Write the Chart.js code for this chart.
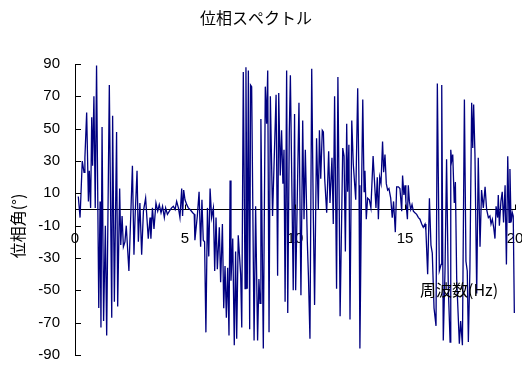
<!DOCTYPE html>
<html lang="ja">
<head>
<meta charset="UTF-8">
<title>位相スペクトル</title>
<script src="https://cdn.jsdelivr.net/npm/chart.js"></script>
<style>
  html, body { margin: 0; padding: 0; background: #fff; }
  #wrap { width: 522px; height: 365px; }
</style>
</head>
<body>
<div id="wrap"><canvas id="phaseChart" width="522" height="365"></canvas></div>
<script>
// 周波数 (Hz) と位相角 (°)
var freq = [
  0.15, 0.23, 0.33, 0.41, 0.45, 0.53, 0.61, 0.65, 0.71, 0.76, 0.80, 0.86, 0.92, 0.98,
  1.08, 1.14, 1.18, 1.23, 1.30, 1.38, 1.44, 1.56, 1.67, 1.71, 1.79, 1.89, 1.94,
  2.03, 2.08, 2.14, 2.20, 2.27, 2.33, 2.45, 2.61, 2.68, 2.73, 2.82, 2.88, 2.95,
  3.03, 3.11, 3.21, 3.33, 3.41, 3.45, 3.52, 3.59, 3.68, 3.76, 3.83, 3.91, 3.98,
  4.06, 4.12, 4.20, 4.29, 4.39, 4.47, 4.55, 4.62, 4.70, 4.77, 4.85, 4.89, 4.94,
  5.00, 5.08, 5.15, 5.23, 5.35, 5.42, 5.45, 5.56, 5.64, 5.71, 5.77, 5.83, 5.89, 5.95,
  6.02, 6.08, 6.14, 6.21, 6.29, 6.35, 6.41, 6.47, 6.56, 6.62, 6.70, 6.76, 6.82, 6.88, 6.94,
  7.00, 7.05, 7.09, 7.17, 7.24, 7.30, 7.35, 7.42, 7.53, 7.58, 7.65, 7.73, 7.77, 7.83, 7.88, 7.94, 7.98,
  8.03, 8.14, 8.21, 8.30, 8.36, 8.41, 8.45, 8.56, 8.65, 8.71, 8.76, 8.82, 8.88, 8.98,
  9.14, 9.21, 9.26, 9.33, 9.39, 9.45, 9.50, 9.55, 9.62, 9.67, 9.74, 9.79, 9.92, 9.98,
  10.03, 10.18, 10.27, 10.35, 10.41, 10.47, 10.56, 10.61, 10.68, 10.76, 10.83, 10.89, 10.98,
  11.06, 11.11, 11.17, 11.24, 11.29, 11.35, 11.44, 11.53, 11.59, 11.68, 11.74, 11.80, 11.89, 11.95,
  12.01, 12.05, 12.17, 12.23, 12.29, 12.35, 12.39, 12.45, 12.50, 12.58, 12.65, 12.76, 12.85, 12.91, 12.95,
  13.03, 13.08, 13.14, 13.18, 13.24, 13.30, 13.38, 13.45, 13.55, 13.61, 13.68, 13.74, 13.79, 13.85, 13.91, 13.98,
  14.03, 14.09, 14.15, 14.21, 14.27, 14.35, 14.42, 14.48, 14.56, 14.62, 14.70, 14.77, 14.85, 14.89, 14.95,
  15.00, 15.04, 15.11, 15.15, 15.20, 15.26, 15.32, 15.38, 15.45, 15.53, 15.61, 15.68, 15.76, 15.83, 15.91, 15.95,
  16.03, 16.11, 16.18, 16.24, 16.32, 16.41, 16.47, 16.56, 16.64, 16.67, 16.74, 16.82, 16.89, 16.97,
  17.05, 17.08, 17.12, 17.17, 17.24, 17.29, 17.35, 17.47, 17.53, 17.61, 17.70, 17.77, 17.83, 17.88, 17.95,
  18.03, 18.08, 18.12, 18.18, 18.26, 18.33, 18.41, 18.48, 18.56, 18.64, 18.71, 18.79, 18.86, 18.91, 18.97,
  19.03, 19.09, 19.14, 19.21, 19.24, 19.29, 19.36, 19.42, 19.48, 19.55, 19.61, 19.67, 19.73, 19.77, 19.82, 19.88, 19.92, 19.97
];
var phase = [
  8, -5, 30, 23, 32, 60, 5, 24, 1, 57, 27, 70, 1, 89,
  -61, 5, -73, 51, -69, -10, -78, 77, -67, 58, -57, 48, -60,
  13, -22, -4, -23, -20, -10, -38, 27, -28, -5, 24, -20, 4,
  -28, -1, 7, -18, -5, -18, 1, -12, 4, -1, 3, -2, 2,
  -5, 1, -3, -1, 1, 2, 0, 5, 1, -5, 13, -4, 12,
  6, 3, 1, 0, -2, -3, -19, -4, 11, -23, 6, -19, -20, -76,
  1, -29, 13, -5, 1, -38, -5, -37, -11, -45, -9, -61, -35, -67, -36,
  -78, 18, -44, -18, -84, -26, -80, -16, -40, -73, 85, -49, 88, -49, 86, -74, 77,
  76, -81, 2, -81, -43, -58, 56, -86, 76, 53, 86, -76, 70, -4,
  71, -41, 72, 21, 49, 16, 37, -57, 86, -64, 47, 83, -50, 59,
  -50, 66, -53, 55, -6, 37, -20, -41, -80, 87, -1, -59, 44,
  0, 49, 19, 49, 48, 19, -2, 36, 4, 32, -9, 70, -49, 82,
  3, -66, 38, 33, -26, 53, 11, 40, -68, 55, 28, 6, 75, 15, -86,
  17, 68, 11, 24, -6, 7, 6, 1, 33, 18, 1, 20, -6, 20, 16, 42,
  23, 34, 16, 12, 13, 7, -5, 5, -14, 14, 14, 13, -1, 21, 9,
  15, 5, -6, 15, 5, 0, 3, -1, -2, -3, -5, -6, -9, -11, -9, -13,
  -40, 7, -22, -27, -61, -72, 78, -38, -34, 77, -81, -37, 31, -49,
  -82, 37, 30, 34, 4, 17, -43, -83, -69, -84, 68, -32, -38, -82, -37,
  66, 38, 65, 34, -52, 32, -23, 12, 1, 14, 0, -5, -4, -9, -6,
  -11, -18, 2, -5, 9, -10, 5, 11, -8, 15, -34, 33, -8, 25, -8, -2, -4, -64
];
var xTicks = [0, 5, 10, 15, 20];
var yTicks = [-90, -70, -50, -30, -10, 10, 30, 50, 70, 90];

var jpFont = '"Noto Sans CJK JP", "Noto Sans", sans-serif';
var numFont = '"Liberation Sans", Arial, sans-serif';

// タイトル・軸ラベル・目盛り線(内向き)を描く
var decorations = {
  id: 'decorations',
  afterDraw: function (chart) {
    var c = chart.ctx;
    var xs = chart.scales.x, ys = chart.scales.y;
    var y0 = ys.getPixelForValue(0);
    c.save();
    c.strokeStyle = '#000';
    c.lineWidth = 1;
    c.beginPath();
    yTicks.forEach(function (v) {
      var py = Math.round(ys.getPixelForValue(v)) + 0.5;
      c.moveTo(xs.left, py);
      c.lineTo(xs.left + 6, py);
    });
    xTicks.forEach(function (v) {
      var px = Math.round(xs.getPixelForValue(v)) + 0.5;
      c.moveTo(px, y0);
      c.lineTo(px, y0 - 5);
    });
    c.stroke();

    c.fillStyle = '#000';
    c.font = '16px ' + jpFont;
    c.textAlign = 'center';
    c.textBaseline = 'middle';
    c.fillText('位相スペクトル', 256, 18);

    c.textAlign = 'left';
    c.fillText('周波数(Hz)', 420, 290);

    c.translate(18, 226);
    c.rotate(-Math.PI / 2);
    c.textAlign = 'center';
    c.fillText('位相角(°)', 0, 0);
    c.restore();
  }
};

var ctx = document.getElementById('phaseChart').getContext('2d');
var phaseChart = new Chart(ctx, {
  type: 'line',
  data: {
    datasets: [{
      data: freq.map(function (f, i) { return { x: f, y: phase[i] }; }),
      borderColor: '#000080',
      borderWidth: 1.3,
      pointRadius: 0,
      tension: 0,
      fill: false
    }]
  },
  options: {
    responsive: false,
    animation: false,
    layout: { padding: { top: 64, right: 7, bottom: 10, left: 0 } },
    plugins: {
      legend: { display: false },
      title: { display: false },
      tooltip: { enabled: false }
    },
    scales: {
      x: {
        type: 'linear',
        min: 0,
        max: 20,
        position: { y: 0 },
        grid: { display: false, drawTicks: false },
        border: { display: true, color: '#000', width: 1 },
        ticks: {
          stepSize: 5,
          padding: 20,
          color: '#000',
          font: { family: numFont, size: 15 }
        },
        afterFit: function (scale) {
          scale.height = 0;
          scale.paddingLeft = 0;
          scale.paddingRight = 0;
          scale.paddingTop = 0;
          scale.paddingBottom = 0;
        }
      },
      y: {
        min: -90,
        max: 90,
        grid: { display: false, drawTicks: false },
        border: { display: true, color: '#000', width: 1 },
        ticks: {
          stepSize: 20,
          padding: 15,
          color: '#000',
          font: { family: numFont, size: 15 }
        },
        afterFit: function (scale) {
          scale.width = 75;
          scale.paddingTop = 0;
          scale.paddingBottom = 0;
        }
      }
    }
  },
  plugins: [decorations]
});
console.log(JSON.stringify(phaseChart.chartArea));
</script>
</body>
</html>
